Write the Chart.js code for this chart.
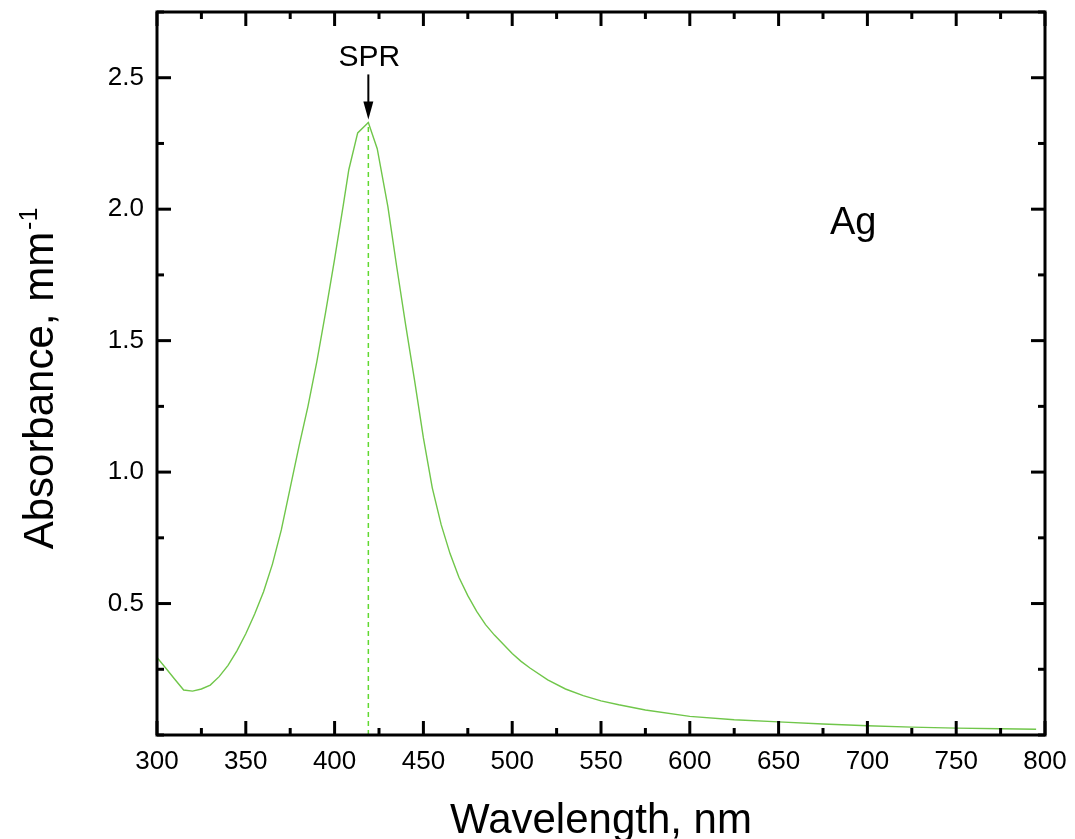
<!DOCTYPE html>
<html lang="en">
<head>
    <meta charset="UTF-8">
    <title>Ag absorbance</title>
    <script src="https://cdn.jsdelivr.net/npm/chart.js"></script>
    <style>
        html, body { margin: 0; padding: 0; background: #fff; }
        #wrap { width: 1075px; height: 839px; }
    </style>
</head>
<body>
    <div id="wrap">
        <canvas id="spectrum" width="1075" height="839"></canvas>
    </div>

<script>
// wavelength (nm) and absorbance (mm^-1)
var wavelength = [300, 305, 310, 315, 320, 325, 330, 335, 340, 345, 350, 355, 360, 365, 370, 375, 380, 385, 390, 395,
                  400, 405, 408, 413, 419, 424, 430, 435, 440, 445, 450, 455, 460, 465, 470, 475, 480, 485, 490, 495,
                  500, 505, 510, 520, 530, 540, 550, 560, 575, 600, 625, 650, 675, 700, 725, 750, 775, 795];
var absorbance = [0.295, 0.254, 0.212, 0.171, 0.167, 0.175, 0.19, 0.222, 0.265, 0.32, 0.385, 0.46, 0.545, 0.65, 0.78, 0.94, 1.1, 1.25, 1.42, 1.61,
                  1.81, 2.02, 2.15, 2.29, 2.33, 2.23, 2.01, 1.78, 1.56, 1.35, 1.13, 0.94, 0.80, 0.69, 0.60, 0.53, 0.47, 0.42, 0.38, 0.345,
                  0.31, 0.28, 0.255, 0.21, 0.175, 0.15, 0.13, 0.115, 0.095, 0.071, 0.058, 0.05, 0.042, 0.035, 0.03, 0.026, 0.024, 0.022];

var xTicks = [300, 350, 400, 450, 500, 550, 600, 650, 700, 750, 800];
var yTicks = [0.5, 1.0, 1.5, 2.0, 2.5];

var FONT = '"Liberation Sans", Arial, sans-serif';

var spectrum = wavelength.map((w, i) => ({ x: w, y: absorbance[i] }));

// peak position for the SPR marker
var peakIndex = absorbance.indexOf(Math.max(...absorbance));
var peak = { x: wavelength[peakIndex], y: absorbance[peakIndex] };

function line(ctx, x1, y1, x2, y2) {
    ctx.beginPath();
    ctx.moveTo(x1, y1);
    ctx.lineTo(x2, y2);
    ctx.stroke();
}

// frame with inward ticks on all four sides, axis titles and labels
var framePlugin = {
    id: 'frame',
    afterDraw(chart) {
        var ctx = chart.ctx;
        var a = chart.chartArea;
        var xs = chart.scales.x;
        var ys = chart.scales.y;
        ctx.save();
        ctx.strokeStyle = '#000';
        ctx.lineWidth = 3;
        ctx.lineCap = 'butt';

        xs.ticks.forEach(t => {
            var px = xs.getPixelForValue(t.value);
            var len = xTicks.includes(t.value) ? 14 : 7;
            line(ctx, px, a.bottom, px, a.bottom - len);
            line(ctx, px, a.top, px, a.top + len);
        });
        ys.ticks.forEach(t => {
            var py = ys.getPixelForValue(t.value);
            var major = yTicks.some(v => Math.abs(v - t.value) < 1e-6);
            var len = major ? 14 : 7;
            line(ctx, a.left, py, a.left + len, py);
            line(ctx, a.right, py, a.right - len, py);
        });
        ctx.strokeRect(a.left, a.top, a.right - a.left, a.bottom - a.top);

        // SPR arrow
        var px = xs.getPixelForValue(peak.x);
        var tip = ys.getPixelForValue(peak.y) - 3;
        ctx.lineWidth = 2;
        line(ctx, px, tip - 45, px, tip - 12);
        ctx.fillStyle = '#000';
        ctx.beginPath();
        ctx.moveTo(px, tip);
        ctx.lineTo(px - 5, tip - 18);
        ctx.lineTo(px + 5, tip - 18);
        ctx.closePath();
        ctx.fill();

        ctx.textAlign = 'center';
        ctx.textBaseline = 'alphabetic';
        ctx.font = '30px ' + FONT;
        ctx.fillText('SPR', px + 1, tip - 53);

        ctx.textAlign = 'left';
        ctx.font = '38px ' + FONT;
        ctx.fillText('Ag', 830, 234);

        // x title
        ctx.textAlign = 'center';
        ctx.font = '42px ' + FONT;
        ctx.fillText('Wavelength, nm', (a.left + a.right) / 2, 833);

        // y title with superscript
        var main = 'Absorbance, mm';
        var sup = '-1';
        ctx.font = '42px ' + FONT;
        var w1 = ctx.measureText(main).width;
        ctx.font = '25px ' + FONT;
        var w2 = ctx.measureText(sup).width;
        var total = w1 + 2 + w2;
        ctx.translate(53, (a.top + a.bottom) / 2 + 5);
        ctx.rotate(-Math.PI / 2);
        ctx.textAlign = 'left';
        ctx.font = '42px ' + FONT;
        ctx.fillText(main, -total / 2, 0);
        ctx.font = '25px ' + FONT;
        ctx.fillText(sup, -total / 2 + w1 + 2, -16);
        ctx.restore();
    }
};

new Chart(document.getElementById('spectrum'), {
    type: 'line',
    data: {
        datasets: [
            {
                label: 'Ag',
                data: spectrum,
                borderColor: 'rgb(112, 198, 74)',
                borderWidth: 1.4,
                pointRadius: 0,
                tension: 0,
                fill: false
            },
            {
                label: 'SPR',
                data: [{ x: peak.x, y: 0 }, { x: peak.x, y: peak.y }],
                borderColor: 'rgb(96, 216, 48)',
                borderWidth: 1.5,
                borderDash: [5, 4],
                pointRadius: 0,
                fill: false
            }
        ]
    },
    options: {
        responsive: false,
        animation: false,
        layout: {
            padding: { top: 12, right: 30, left: 0, bottom: 0 }
        },
        plugins: {
            legend: { display: false },
            tooltip: { enabled: false },
            title: { display: false }
        },
        scales: {
            x: {
                type: 'linear',
                min: 300,
                max: 800,
                afterFit: s => { s.height = 104; s.paddingLeft = 0; s.paddingRight = 0; },
                grid: { display: false, drawTicks: false },
                border: { display: false },
                ticks: {
                    stepSize: 25,
                    padding: 11,
                    maxRotation: 0,
                    autoSkip: false,
                    color: '#000',
                    font: { family: FONT, size: 26 },
                    callback: v => xTicks.includes(v) ? String(v) : ''
                }
            },
            y: {
                type: 'linear',
                min: 0,
                max: 2.75,
                afterFit: s => { s.width = 157; s.paddingTop = 0; s.paddingBottom = 0; },
                grid: { display: false, drawTicks: false },
                border: { display: false },
                ticks: {
                    stepSize: 0.25,
                    padding: 13,
                    autoSkip: false,
                    color: '#000',
                    font: { family: FONT, size: 26 },
                    callback: v => yTicks.some(t => Math.abs(t - v) < 1e-6) ? v.toFixed(1) : ''
                }
            }
        }
    },
    plugins: [framePlugin]
});
</script>
</body>
</html>
